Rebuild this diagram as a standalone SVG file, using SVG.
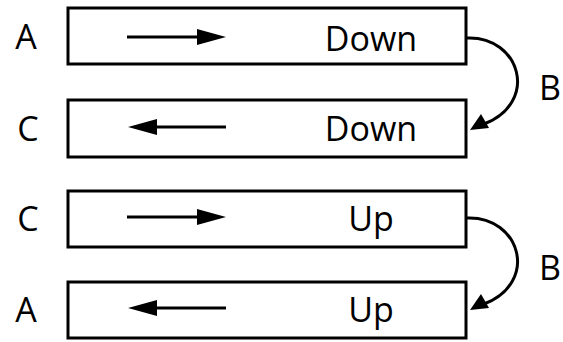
<svg xmlns="http://www.w3.org/2000/svg" width="563" height="342" viewBox="0 0 563 342">
<style>
.box{fill:#fff;stroke:#000;stroke-width:3}
.t{font-family:"Open Sans","Noto Sans",sans-serif;font-size:34px;fill:#000;text-anchor:middle}
.ar{stroke:#000;stroke-width:3;fill:none}
.cv{stroke:#000;stroke-width:3;fill:none}
</style>
<g id="row1">
<rect class="box" x="68" y="8" width="398" height="56"/>
<text class="t" x="26" y="49">A</text>
<line class="ar" x1="127" y1="37" x2="200" y2="37"/>
<path d="M197,29 L226,37 L197,45 Z" fill="#000"/>
<text class="t" x="371" y="51">Down</text>
</g>
<g id="row2">
<rect class="box" x="68" y="100" width="398" height="57"/>
<text class="t" x="28" y="141">C</text>
<line class="ar" x1="226" y1="127" x2="155" y2="127"/>
<path d="M157,119 L128,127 L157,135 Z" fill="#000"/>
<text class="t" x="371" y="141">Down</text>
</g>
<g id="row3">
<rect class="box" x="68" y="191" width="398" height="56"/>
<text class="t" x="28" y="231">C</text>
<line class="ar" x1="127" y1="217" x2="200" y2="217"/>
<path d="M197,209 L226,217 L197,225 Z" fill="#000"/>
<text class="t" x="371" y="231">Up</text>
</g>
<g id="row4">
<rect class="box" x="68" y="282" width="398" height="56"/>
<text class="t" x="26" y="322">A</text>
<line class="ar" x1="226" y1="308" x2="155" y2="308"/>
<path d="M157,300 L128,308 L157,316 Z" fill="#000"/>
<text class="t" x="371" y="322">Up</text>
</g>
<g id="labels">
<text class="t" x="539" y="100" style="text-anchor:start">B</text>
<text class="t" x="539" y="280" style="text-anchor:start">B</text>
</g>
<g id="connectors">
<path class="cv" d="M467,38 C520,36 540,102 484,124"/>
<path d="M470,130 L481,114 L489,128 Z" fill="#000"/>
<path class="cv" d="M467,218 C520,216 540,282 484,304"/>
<path d="M470,310 L481,294 L489,308 Z" fill="#000"/>
</g>
</svg>
